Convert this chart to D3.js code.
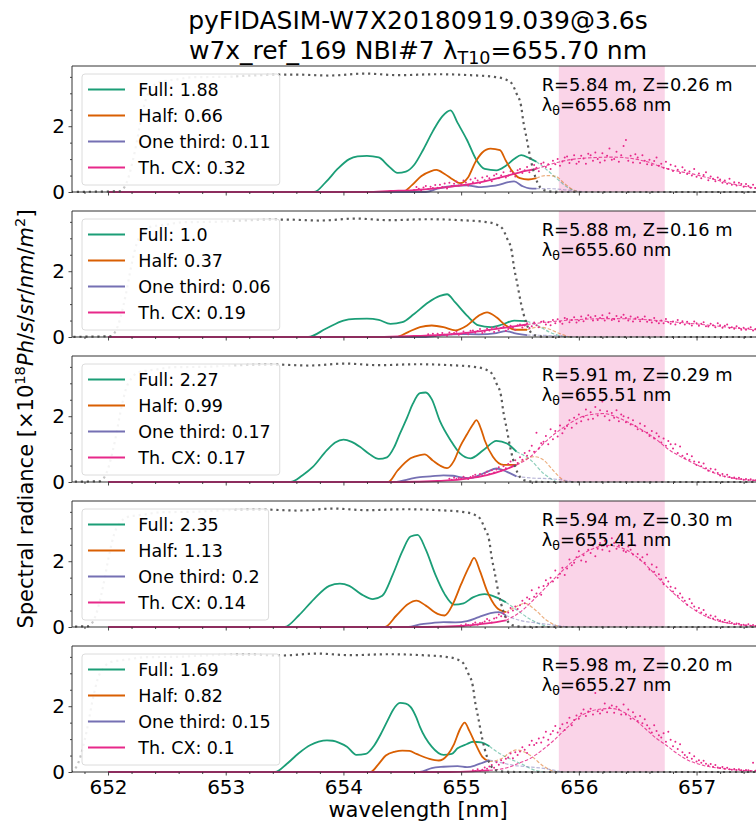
<!DOCTYPE html>
<html>
<head>
<meta charset="utf-8">
<script src="https://cdn.jsdelivr.net/npm/d3@7"></script>
<style>
  body { margin: 0; background: #fff; }
  text { font-family: "DejaVu Sans", sans-serif; fill: #000; }
</style>
</head>
<body>
<svg id="chart" width="756" height="825"></svg>
<script>
// ---- data ----
const seriesNames = ['Full', 'Half', 'One third', 'Th. CX'];
const seriesColors = ['#1b9e77', '#d95f02', '#7570b3', '#e7298a'];

const posR = ['5.84', '5.88', '5.91', '5.94', '5.98'];
const posZ = ['0.26', '0.16', '0.29', '0.30', '0.20'];
const lambdaTheta = [655.68, 655.60, 655.51, 655.41, 655.27];
const cutoffs = [655.64, 655.56, 655.47, 655.38, 655.24];

const legendFull = ['1.88', '1.0', '2.27', '2.35', '1.69'];
const legendHalf = ['0.66', '0.37', '0.99', '1.13', '0.82'];
const legendThird = ['0.11', '0.06', '0.17', '0.2', '0.15'];
const legendThcx = ['0.32', '0.19', '0.17', '0.14', '0.1'];

const bandRange = [655.83, 656.73];
const xMajorTicks = [652, 653, 654, 655, 656, 657];
const yMajorTicks = [0, 2];
const yMinorTicks = [0.5, 1, 1.5, 2.5, 3, 3.5];

// [wavelength nm, radiance]
const full1 = [[652,0],[653.75,0],[653.85,0.3],[653.95,0.7],[654.05,1.0],[654.12,1.08],[654.2,1.1],[654.3,1.05],[654.38,0.8],[654.46,0.58],[654.53,0.62],[654.6,0.82],[654.68,1.3],[654.76,1.85],[654.84,2.3],[654.91,2.48],[654.97,2.1],[655.05,1.58],[655.13,0.97],[655.2,0.7],[655.3,0.66],[655.38,0.8],[655.45,1.0],[655.51,1.12],[655.58,1.03],[655.64,0.92],[655.72,0.7],[655.8,0.45],[655.9,0.15],[656.0,0]];
const half1 = [[652,0],[654.5,0],[654.58,0.2],[654.66,0.48],[654.74,0.63],[654.79,0.67],[654.86,0.55],[654.93,0.38],[654.99,0.27],[655.06,0.45],[655.12,0.9],[655.18,1.2],[655.25,1.32],[655.33,1.27],[655.38,0.95],[655.43,0.65],[655.5,0.42],[655.57,0.38],[655.64,0.42],[655.72,0.5],[655.8,0.48],[655.88,0.25],[655.96,0.05],[656.02,0]];
const third1 = [[652,0],[654.7,0],[654.8,0.1],[654.88,0.16],[654.96,0.19],[655.05,0.2],[655.15,0.15],[655.25,0.18],[655.32,0.22],[655.4,0.3],[655.45,0.32],[655.52,0.18],[655.58,0.11],[655.64,0.1],[655.75,0.1],[655.85,0.08],[655.95,0.04],[656.05,0]];
const thcx1 = [[652,0],[654.2,0],[654.4,0.03],[654.6,0.06],[654.8,0.12],[655.0,0.2],[655.2,0.32],[655.4,0.5],[655.5,0.6],[655.64,0.7],[655.84,0.92],[656.01,1.02],[656.29,1.06],[656.58,0.92],[656.72,0.74],[657.0,0.52],[657.28,0.27],[657.5,0.12],[657.57,0.1]];

const full2 = [[652,0],[653.7,0],[653.85,0.25],[654.0,0.5],[654.1,0.55],[654.2,0.56],[654.3,0.52],[654.4,0.4],[654.5,0.45],[654.6,0.7],[654.72,1.05],[654.82,1.25],[654.88,1.3],[654.95,1.05],[655.05,0.65],[655.15,0.35],[655.25,0.3],[655.35,0.38],[655.45,0.5],[655.56,0.48],[655.65,0.35],[655.75,0.15],[655.85,0.03],[655.92,0]];
const half2 = [[652,0],[654.45,0],[654.55,0.15],[654.65,0.3],[654.75,0.35],[654.85,0.3],[654.95,0.2],[655.05,0.35],[655.15,0.65],[655.22,0.75],[655.3,0.6],[655.38,0.35],[655.46,0.22],[655.56,0.22],[655.66,0.3],[655.74,0.25],[655.84,0.1],[655.92,0]];
const third2 = [[652,0],[654.7,0],[654.85,0.06],[655.0,0.09],[655.15,0.08],[655.3,0.12],[655.38,0.18],[655.45,0.12],[655.56,0.06],[655.7,0.05],[655.85,0.03],[655.95,0]];
const thcx2 = [[652,0],[654.3,0],[654.6,0.03],[654.9,0.08],[655.1,0.15],[655.3,0.25],[655.45,0.32],[655.56,0.38],[655.75,0.46],[656.0,0.53],[656.25,0.56],[656.5,0.54],[656.8,0.46],[657.1,0.36],[657.4,0.25],[657.57,0.2]];

const full3 = [[652,0],[653.55,0],[653.65,0.2],[653.74,0.46],[653.86,0.97],[653.93,1.2],[654.0,1.29],[654.07,1.22],[654.14,1.07],[654.22,0.85],[654.3,0.7],[654.37,0.75],[654.43,1.05],[654.48,1.47],[654.54,1.95],[654.59,2.38],[654.65,2.7],[654.7,2.72],[654.75,2.52],[654.82,1.85],[654.91,1.27],[654.99,0.87],[655.08,0.72],[655.19,0.97],[655.3,1.25],[655.39,1.17],[655.47,0.92],[655.59,0.67],[655.7,0.26],[655.81,0]];
const half3 = [[652,0],[654.38,0],[654.46,0.35],[654.57,0.72],[654.65,0.82],[654.69,0.84],[654.76,0.65],[654.82,0.5],[654.88,0.42],[654.94,0.65],[654.99,1.07],[655.05,1.45],[655.1,1.75],[655.13,1.88],[655.17,1.6],[655.2,1.27],[655.27,0.77],[655.36,0.52],[655.47,0.52],[655.55,0.7],[655.62,0.77],[655.7,0.67],[655.78,0.36],[655.86,0.08],[655.9,0]];
const third3 = [[652,0],[654.45,0],[654.55,0.08],[654.65,0.15],[654.74,0.17],[654.85,0.2],[654.93,0.19],[655.0,0.14],[655.08,0.12],[655.16,0.22],[655.22,0.31],[655.3,0.41],[655.39,0.31],[655.47,0.17],[655.6,0.12],[655.75,0.1],[655.88,0.05],[655.95,0]];
const thcx3 = [[652,0],[654.5,0],[654.8,0.03],[655.0,0.08],[655.1,0.13],[655.22,0.21],[655.36,0.36],[655.47,0.52],[655.59,0.77],[655.7,1.17],[655.78,1.42],[655.9,1.73],[656.07,2.03],[656.21,2.08],[656.35,1.93],[656.49,1.68],[656.63,1.37],[656.77,0.97],[656.92,0.67],[657.06,0.42],[657.2,0.21],[657.34,0.1],[657.48,0.05],[657.57,0.03]];

const full4 = [[652,0],[653.5,0],[653.62,0.35],[653.75,0.85],[653.88,1.25],[653.97,1.32],[654.05,1.25],[654.15,1.0],[654.25,0.85],[654.33,0.95],[654.42,1.6],[654.5,2.3],[654.57,2.75],[654.63,2.8],[654.7,2.35],[654.78,1.6],[654.86,1.0],[654.94,0.68],[655.02,0.72],[655.1,0.9],[655.2,1.0],[655.3,0.9],[655.38,0.75],[655.48,0.5],[655.58,0.25],[655.7,0.05],[655.76,0]];
const half4 = [[652,0],[654.35,0],[654.45,0.35],[654.55,0.7],[654.62,0.8],[654.7,0.65],[654.8,0.4],[654.86,0.35],[654.93,0.7],[655.0,1.3],[655.07,1.85],[655.11,2.1],[655.16,1.7],[655.22,1.1],[655.3,0.6],[655.38,0.45],[655.46,0.6],[655.54,0.72],[655.62,0.55],[655.72,0.22],[655.82,0.03],[655.86,0]];
const third4 = [[652,0],[654.55,0],[654.65,0.08],[654.75,0.12],[654.85,0.15],[654.95,0.14],[655.05,0.18],[655.15,0.3],[655.25,0.42],[655.32,0.45],[655.38,0.35],[655.5,0.2],[655.65,0.12],[655.8,0.05],[655.9,0]];
const thcx4 = [[652,0],[654.7,0],[655.0,0.03],[655.2,0.1],[655.3,0.15],[655.38,0.2],[655.5,0.45],[655.65,0.95],[655.8,1.5],[655.95,2.0],[656.1,2.35],[656.25,2.48],[656.4,2.35],[656.55,1.95],[656.7,1.4],[656.85,0.88],[657.0,0.48],[657.15,0.22],[657.3,0.1],[657.45,0.04],[657.57,0.02]];

const full5 = [[652,0],[653.42,0],[653.52,0.25],[653.62,0.57],[653.72,0.82],[653.79,0.92],[653.86,0.96],[653.91,0.95],[653.97,0.88],[654.03,0.77],[654.11,0.52],[654.19,0.55],[654.26,0.8],[654.32,1.17],[654.38,1.6],[654.42,1.88],[654.48,2.1],[654.53,2.08],[654.57,1.98],[654.62,1.65],[654.65,1.37],[654.75,0.77],[654.85,0.52],[654.92,0.55],[654.97,0.72],[655.05,0.85],[655.1,0.92],[655.17,0.9],[655.24,0.78],[655.31,0.6],[655.38,0.46],[655.51,0.25],[655.63,0.05],[655.7,0]];
const half5 = [[652,0],[654.23,0],[654.3,0.25],[654.36,0.5],[654.44,0.62],[654.5,0.65],[654.56,0.64],[654.62,0.55],[654.73,0.4],[654.81,0.35],[654.88,0.5],[654.94,0.85],[654.99,1.3],[655.03,1.5],[655.07,1.25],[655.12,0.87],[655.18,0.46],[655.24,0.32],[655.34,0.4],[655.42,0.6],[655.47,0.67],[655.53,0.62],[655.59,0.5],[655.71,0.15],[655.8,0]];
const third5 = [[652,0],[654.65,0],[654.75,0.12],[654.85,0.16],[654.97,0.18],[655.05,0.15],[655.12,0.2],[655.18,0.28],[655.24,0.36],[655.32,0.3],[655.45,0.2],[655.6,0.15],[655.75,0.08],[655.85,0]];
const thcx5 = [[652,0],[654.9,0],[655.1,0.02],[655.24,0.05],[655.38,0.12],[655.5,0.28],[655.59,0.42],[655.7,0.7],[655.79,0.97],[655.9,1.35],[655.99,1.65],[656.08,1.82],[656.16,1.9],[656.28,1.93],[656.41,1.76],[656.5,1.52],[656.57,1.3],[656.66,1.02],[656.74,0.82],[656.82,0.6],[656.9,0.41],[657.06,0.2],[657.23,0.1],[657.39,0.05],[657.57,0.02]];

// synthetic measurement points: first wavelength, spacing, values
const dotStart = [654.60, 654.70, 654.90, 655.00, 655.10];
const dotStep = 0.02;
const dots1 = [0.06,0.15,0.1,0.04,0.14, 0.18,0.09,0.16,0.12,0.21, 0.13,0.22,0.15,0.26,0.11, 0.28,0.18,0.25,0.32,0.2,
  0.24,0.35,0.29,0.2,0.38, 0.3,0.42,0.35,0.27,0.44, 0.36,0.48,0.42,0.33,0.5, 0.55,0.42,0.5,0.6,0.44,
  0.5,0.63,0.58,0.47,0.66, 0.7,0.58,0.66,0.76,0.6, 0.68,0.82,0.74,0.63,0.86, 0.9,0.76,0.84,0.7,0.95,
  0.84,1.0,0.8,0.93,1.05, 1.08,0.88,0.98,1.12,0.86, 0.92,1.1,1.02,0.86,1.16, 1.12,0.95,1.2,1.0,0.9,
  1.18,0.96,1.1,1.32,0.98, 1.0,1.22,0.92,1.12,1.4, 1.58,0.95,1.1,0.9,1.15, 1.05,0.88,1.12,0.95,0.84,
  0.98,0.82,0.94,1.05,0.8, 0.86,0.74,0.92,0.7,0.83, 0.64,0.78,0.68,0.58,0.75, 0.66,0.55,0.62,0.5,0.7,
  0.46,0.56,0.42,0.52,0.6, 0.36,0.47,0.4,0.33,0.44, 0.38,0.28,0.35,0.25,0.4, 0.22,0.3,0.2,0.28,0.24,
  0.16,0.24,0.18,0.13,0.22, 0.12,0.18,0.1,0.16,0.13];
const dots2 = [0.02,0.08,0.04,0.1,0.03, 0.1,0.05,0.12,0.07,0.04, 0.14,0.08,0.12,0.16,0.07, 0.1,0.17,0.13,0.08,0.19,
  0.2,0.13,0.18,0.24,0.12, 0.16,0.25,0.2,0.28,0.15, 0.3,0.2,0.27,0.32,0.19, 0.24,0.34,0.28,0.22,0.36,
  0.38,0.29,0.35,0.42,0.27, 0.33,0.44,0.36,0.3,0.46, 0.48,0.38,0.45,0.36,0.52, 0.42,0.54,0.46,0.4,0.58,
  0.55,0.45,0.52,0.6,0.44, 0.5,0.62,0.48,0.57,0.66, 0.6,0.5,0.64,0.52,0.58, 0.66,0.5,0.6,0.72,0.52,
  0.54,0.64,0.48,0.6,0.68, 0.58,0.5,0.62,0.47,0.56, 0.6,0.48,0.55,0.62,0.46, 0.52,0.44,0.58,0.48,0.42,
  0.5,0.42,0.55,0.45,0.4, 0.47,0.38,0.52,0.42,0.48, 0.38,0.46,0.4,0.35,0.47, 0.42,0.34,0.4,0.45,0.33,
  0.32,0.4,0.36,0.3,0.42, 0.36,0.28,0.34,0.38,0.27, 0.3,0.25,0.33,0.27,0.22, 0.28,0.22,0.26,0.3,0.2,
  0.24,0.19,0.23,0.2];
const dots3 = [0.1,0.07,0.13,0.09,0.12, 0.11,0.16,0.12,0.09,0.15, 0.18,0.22,0.15,0.24,0.2, 0.26,0.32,0.24,0.36,0.29,
  0.38,0.45,0.35,0.48,0.42, 0.55,0.62,0.5,0.66,0.58, 0.75,0.68,0.88,0.8,0.95, 1.1,0.92,1.5,1.02,1.18,
  1.22,1.4,1.15,1.6,1.3, 1.55,1.38,1.72,1.48,1.62, 1.7,1.88,1.65,1.95,1.78, 2.05,1.85,1.98,2.2,1.9,
  2.12,1.92,2.28,2.02,2.18, 2.45,2.0,2.15,1.88,2.1, 1.95,2.18,1.85,2.05,2.0, 1.82,1.95,1.75,1.88,1.7,
  1.6,1.78,1.55,1.7,1.5, 1.4,1.55,1.32,1.48,1.38, 1.2,1.32,1.1,1.25,1.15, 1.02,1.15,0.88,1.08,0.8,
  0.72,0.85,0.68,0.78,0.62, 0.52,0.6,0.48,0.56,0.42, 0.34,0.4,0.3,0.38,0.27, 0.2,0.24,0.17,0.22,0.15,
  0.12,0.14,0.1,0.13,0.09, 0.07,0.09,0.06,0.08,0.05, 0.05,0.04,0.06,0.03];
const dots4 = [0.05,0.03,0.08,0.06,0.04, 0.09,0.14,0.07,0.12,0.13, 0.17,0.24,0.2,0.14,0.26, 0.28,0.38,0.33,0.42,0.3,
  0.44,0.58,0.5,0.62,0.55, 0.66,0.8,0.72,0.9,0.85, 1.12,0.92,1.02,1.2,0.98, 1.25,1.42,1.32,1.5,1.38,
  1.72,1.5,1.62,1.8,1.58, 1.78,2.05,1.88,1.95,2.12, 2.3,2.02,2.18,1.98,2.35, 2.25,2.48,2.15,2.38,2.55,
  2.35,2.62,2.45,2.3,2.7, 2.55,2.38,2.48,2.62,2.32, 2.28,2.45,2.35,2.2,2.48, 2.22,2.05,2.12,1.95,2.2,
  1.75,1.9,1.68,1.82,1.6, 1.45,1.3,1.5,1.38,1.22, 1.08,1.18,0.95,1.02,0.9, 0.8,0.68,0.85,0.72,0.62,
  0.5,0.58,0.44,0.52,0.38, 0.3,0.35,0.26,0.32,0.22, 0.2,0.16,0.21,0.13,0.17, 0.12,0.08,0.11,0.1,0.06,
  0.07,0.05,0.08,0.04,0.06, 0.03,0.05,0.04,0.03];
const dots5 = [0.05,0.03,0.08,0.04,0.07, 0.14,0.1,0.17,0.21,0.13, 0.3,0.22,0.36,0.28,0.4, 0.44,0.56,0.42,0.6,0.52,
  0.62,0.75,0.68,0.58,0.82, 0.95,0.82,0.88,1.02,0.9, 1.05,1.22,0.98,1.15,1.25, 1.4,1.2,1.32,1.45,1.28,
  1.5,1.65,1.42,1.58,1.72, 1.62,1.78,1.9,1.7,1.84, 1.92,1.75,2.4,1.85,1.78, 1.88,2.08,1.82,1.96,2.02,
  1.8,1.98,1.9,1.75,2.05, 1.75,1.9,1.62,1.82,1.68, 1.55,1.7,1.48,1.6,1.42, 1.32,1.2,1.42,1.25,1.12,
  1.05,1.18,0.92,1.22,0.98, 0.78,0.92,0.7,0.84,0.6, 0.52,0.45,0.58,0.4,0.48, 0.32,0.36,0.28,0.34,0.25,
  0.2,0.24,0.16,0.21,0.14, 0.12,0.15,0.1,0.13,0.08, 0.07,0.09,0.06,0.08,0.05, 0.04,0.06,0.05,0.03,0.28,
  0.04,0.05,0.03,0.04];

// filter transmission (scaled), offsets relative to lambda_theta
const filterOffset = [-4.2,-3.58,-3.52,-3.45,-3.40,-3.36,-3.30,-3.25,-3.1,-2.96,-2.7,-2.4,-2.1,-1.8,-1.5,-1.2,-0.9,-0.6,-0.4,-0.3,-0.25,-0.21,-0.17,-0.15,-0.13,-0.09,-0.05,-0.01,0.03,0.1,0.2,2.5];
const filterValue = [0,0.02,0.3,1.27,2.2,2.8,3.2,3.34,3.42,3.49,3.5,3.55,3.57,3.54,3.6,3.55,3.58,3.55,3.5,3.42,3.3,3.0,2.6,2.1,1.75,1.0,0.46,0.15,0.05,0.01,0,0];
const filterLightEnd = 653.05;

const fullData = [full1, full2, full3, full4, full5];
const halfData = [half1, half2, half3, half4, half5];
const thirdData = [third1, third2, third3, third4, third5];
const thcxData = [thcx1, thcx2, thcx3, thcx4, thcx5];
const dotData = [dots1, dots2, dots3, dots4, dots5];

// ---- layout ----
const left = 72, right = 764, figRight = 756;
const top0 = 66, panelH = 126, pitch = 145;

const svg = d3.select('#chart');
const defs = svg.append('defs');
const x = d3.scaleLinear().domain([651.694, 657.573]).range([left, right]);
const xMinorTicks = d3.range(651.8, 657.6, 0.2).filter(v => Math.abs(v - Math.round(v)) > 0.01);

for (let i = 0; i < 5; i++) {
  const top = top0 + i * pitch;
  const bottom = top + panelH;
  const y = d3.scaleLinear().domain([0, 3.83]).range([bottom, top]);
  const ln = d3.line().x(d => x(d[0])).y(d => y(d[1])).curve(d3.curveMonotoneX);
  const g = svg.append('g');

  defs.append('clipPath').attr('id', 'clip' + i).append('rect')
    .attr('x', left).attr('y', top).attr('width', figRight - left).attr('height', panelH + 1.5);
  const plot = g.append('g').attr('clip-path', `url(#clip${i})`);

  // shaded band
  plot.append('rect')
    .attr('x', x(bandRange[0])).attr('y', top)
    .attr('width', x(bandRange[1]) - x(bandRange[0])).attr('height', panelH)
    .attr('fill', '#e7298a').attr('fill-opacity', 0.2);

  const cut = cutoffs[i];
  const sets = [fullData[i], halfData[i], thirdData[i], thcxData[i]];

  // solid parts
  sets.forEach((pts, k) => {
    plot.append('path')
      .attr('d', ln(pts.filter(d => d[0] <= cut + 1e-6)))
      .attr('fill', 'none').attr('stroke', seriesColors[k]).attr('stroke-width', 1.8);
  });
  // dashed continuation beyond the cut
  sets.forEach((pts, k) => {
    plot.append('path')
      .attr('d', ln(pts.filter(d => d[0] >= cut - 1e-6)))
      .attr('fill', 'none').attr('stroke', seriesColors[k])
      .attr('stroke-width', k === 3 ? 1.1 : 1.2)
      .attr('stroke-dasharray', '3.5,1.8')
      .attr('stroke-opacity', k === 3 ? 0.85 : 0.5);
  });

  // measurement dots
  plot.append('g').selectAll('circle')
    .data(dotData[i])
    .join('circle')
    .attr('cx', (v, k) => x(dotStart[i] + k * dotStep))
    .attr('cy', v => y(v))
    .attr('r', 1.0)
    .attr('fill', '#e7298a');

  // filter curve: light for the rising edge, dark elsewhere
  const fpts = filterOffset.map((o, k) => [lambdaTheta[i] + o, filterValue[k]]);
  const riseX = x(lambdaTheta[i] - 3.56);
  const lightClip = defs.append('clipPath').attr('id', 'fl' + i);
  lightClip.append('rect').attr('x', riseX).attr('y', top)
    .attr('width', x(filterLightEnd) - riseX).attr('height', panelH + 1.5);
  const darkClip = defs.append('clipPath').attr('id', 'fd' + i);
  darkClip.append('rect').attr('x', left).attr('y', top)
    .attr('width', Math.max(0, riseX - left)).attr('height', panelH + 1.5);
  darkClip.append('rect').attr('x', x(filterLightEnd)).attr('y', top)
    .attr('width', figRight - x(filterLightEnd)).attr('height', panelH + 1.5);
  plot.append('g').attr('clip-path', `url(#fl${i})`).append('path')
    .attr('d', ln(fpts)).attr('fill', 'none')
    .attr('stroke', '#c4c4c4').attr('stroke-width', 2.2).attr('stroke-dasharray', '2.2,3.8');
  plot.append('g').attr('clip-path', `url(#fd${i})`).append('path')
    .attr('d', ln(fpts)).attr('fill', 'none')
    .attr('stroke', '#5a5a5a').attr('stroke-width', 2.2).attr('stroke-dasharray', '2.2,3.8');

  // spines
  g.append('line').attr('x1', left).attr('x2', figRight).attr('y1', top).attr('y2', top)
    .attr('stroke', '#333').attr('stroke-width', 1);
  g.append('line').attr('x1', left).attr('x2', left).attr('y1', top).attr('y2', bottom)
    .attr('stroke', '#333').attr('stroke-width', 1);
  g.append('line').attr('x1', left).attr('x2', figRight).attr('y1', bottom).attr('y2', bottom)
    .attr('stroke', '#333').attr('stroke-width', 1);

  // x axis ticks
  g.append('g').attr('transform', `translate(0,${bottom})`)
    .call(d3.axisBottom(x).tickValues(xMajorTicks).tickSize(3.5).tickSizeOuter(0).tickPadding(4.3)
      .tickFormat(i === 4 ? d3.format('d') : () => ''));
  g.append('g').attr('transform', `translate(0,${bottom})`)
    .call(d3.axisBottom(x).tickValues(xMinorTicks).tickSize(2).tickSizeOuter(0).tickFormat(() => ''));
  // y axis ticks
  g.append('g').attr('transform', `translate(${left},0)`)
    .call(d3.axisLeft(y).tickValues(yMajorTicks).tickSize(3.5).tickSizeOuter(0).tickPadding(3.5).tickFormat(d3.format('d')));
  g.append('g').attr('transform', `translate(${left},0)`)
    .call(d3.axisLeft(y).tickValues(yMinorTicks).tickSize(2).tickSizeOuter(0).tickFormat(() => ''));

  g.selectAll('.domain').remove();
  g.selectAll('.tick line').attr('stroke', '#333').attr('stroke-width', 0.9);
  g.selectAll('.tick text').attr('font-size', 20).attr('font-family', 'DejaVu Sans').attr('fill', '#000');

  // legend
  const legVals = [legendFull[i], legendHalf[i], legendThird[i], legendThcx[i]];
  const leg = g.append('g');
  const box = leg.append('rect')
    .attr('x', 82).attr('y', top + 8).attr('height', 111).attr('rx', 3)
    .attr('fill', '#fff').attr('fill-opacity', 0.8).attr('stroke', '#dcdcdc').attr('stroke-width', 1);
  let maxW = 0;
  seriesNames.forEach((nm, k) => {
    const ly = top + 23.5 + 26 * k;
    leg.append('line').attr('x1', 88).attr('x2', 125).attr('y1', ly).attr('y2', ly)
      .attr('stroke', seriesColors[k]).attr('stroke-width', 1.8);
    const t = leg.append('text').attr('x', 138.3).attr('y', ly + 6.3)
      .attr('font-size', 17.5).text(`${nm}: ${legVals[k]}`);
    maxW = Math.max(maxW, t.node().getComputedTextLength());
  });
  box.attr('width', 138.3 + maxW + 9 - 82);

  // annotation
  g.append('text').attr('x', 541.7).attr('y', top + 24.5).attr('font-size', 17.8)
    .text(`R=${posR[i]} m, Z=${posZ[i]} m`);
  const lt = g.append('text').attr('x', 541.7).attr('y', top + 45).attr('font-size', 17.8);
  lt.append('tspan').text('λ');
  lt.append('tspan').attr('font-size', 12.5).attr('dy', 4).text('θ');
  lt.append('tspan').attr('dy', -4).text(`=${lambdaTheta[i].toFixed(2)} nm`);
}

// title
svg.append('text').attr('x', 418).attr('y', 29).attr('text-anchor', 'middle')
  .attr('font-size', 25).text('pyFIDASIM-W7X20180919.039@3.6s');
const t2 = svg.append('text').attr('x', 418).attr('y', 58.5).attr('text-anchor', 'middle').attr('font-size', 25);
t2.append('tspan').text('w7x_ref_169 NBI#7 λ');
t2.append('tspan').attr('font-size', 17.5).attr('dy', 5).text('T10');
t2.append('tspan').attr('dy', -5).text('=655.70 nm');

// axis labels
svg.append('text').attr('x', 418).attr('y', 816.5).attr('text-anchor', 'middle')
  .attr('font-size', 21).text('wavelength [nm]');
const yl = svg.append('text').attr('transform', 'translate(33,419) rotate(-90)')
  .attr('text-anchor', 'middle').attr('font-size', 21);
yl.append('tspan').text('Spectral radiance [×10');
yl.append('tspan').attr('font-size', 14.7).attr('dy', -8).text('18');
yl.append('tspan').attr('dy', 8).attr('font-style', 'italic').text('Ph');
yl.append('tspan').text('/');
yl.append('tspan').attr('font-style', 'italic').text('s');
yl.append('tspan').text('/');
yl.append('tspan').attr('font-style', 'italic').text('sr');
yl.append('tspan').text('/');
yl.append('tspan').attr('font-style', 'italic').text('nm');
yl.append('tspan').text('/');
yl.append('tspan').attr('font-style', 'italic').text('m');
yl.append('tspan').attr('font-size', 14.7).attr('dy', -8).text('2');
yl.append('tspan').attr('dy', 8).text(']');
</script>
</body>
</html>
